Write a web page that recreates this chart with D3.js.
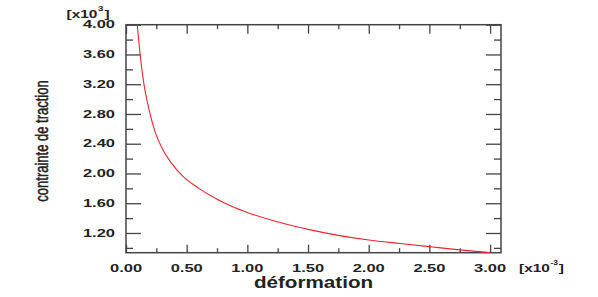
<!DOCTYPE html>
<html>
<head>
<meta charset="utf-8">
<script src="https://cdn.jsdelivr.net/npm/d3@7"></script>
<style>
  body { margin: 0; background: #fff; }
  text { font-family: "Liberation Sans", Arial, sans-serif; fill: #222; }
</style>
</head>
<body>
<div id="chart"></div>
<script>
// values (x in 1e-3, y in 1e3)
const strain = [0.093, 0.115, 0.148, 0.19, 0.24, 0.30, 0.37, 0.47, 0.60, 0.75, 0.87, 1.01, 1.27, 1.51, 1.76, 2.0, 2.26, 2.51, 2.75, 3.0];
const stress = [4.00, 3.62, 3.20, 2.86, 2.56, 2.33, 2.15, 1.96, 1.80, 1.655, 1.56, 1.47, 1.34, 1.245, 1.165, 1.106, 1.058, 1.014, 0.973, 0.935];

const xMajor = [0, 0.5, 1.0, 1.5, 2.0, 2.5, 3.0];
const xMinor = [0.25, 0.75, 1.25, 1.75, 2.25, 2.75];
const yMajor = [1.2, 1.6, 2.0, 2.4, 2.8, 3.2, 3.6, 4.0];
const yMinor = [1.0, 1.4, 1.8, 2.2, 2.6, 3.0, 3.4, 3.8];

const width = 598;
const height = 297;
const plotL = 126, plotR = 501, plotT = 24.7, plotB = 252.7;

const svg = d3.select("#chart")
              .append("svg")
              .attr("width", width)
              .attr("height", height);

const x = d3.scaleLinear().domain([0, 3.09]).range([plotL, plotR]);
const y = d3.scaleLinear().domain([0.935, 4.0]).range([plotB, plotT]);

const fmt = d3.format(".2f");
const axisColor = "#444";

// stretched text helper (the picture is squeezed vertically)
function label(txt, px, py, opts) {
  const t = svg.append("text")
     .attr("transform", `translate(${px},${py}) scale(${opts.sx || 1},1)${opts.rot ? " rotate(" + opts.rot + ")" : ""}`)
     .attr("text-anchor", opts.anchor || "middle")
     .style("font-size", opts.size + "px")
     .style("font-weight", opts.weight || "bold");
  return t.text(txt);
}

// frame
svg.append("rect")
   .attr("x", plotL).attr("y", plotT)
   .attr("width", plotR - plotL).attr("height", plotB - plotT)
   .attr("fill", "none").attr("stroke", axisColor).attr("stroke-width", 1.5);

// ticks, drawn inward with d3 axes
function ticks(axis, vals, size, tr) {
  svg.append("g")
     .attr("transform", tr)
     .call(axis.tickValues(vals).tickSize(-size).tickFormat(""))
     .call(g => g.select(".domain").remove())
     .call(g => g.selectAll("line").attr("stroke", axisColor).attr("stroke-width", 1.3));
}
ticks(d3.axisBottom(x), xMajor, 8, `translate(0,${plotB})`);
ticks(d3.axisBottom(x), xMinor, 4.5, `translate(0,${plotB})`);
ticks(d3.axisTop(x), xMajor, 9, `translate(0,${plotT})`);
ticks(d3.axisTop(x), xMinor, 4.5, `translate(0,${plotT})`);
ticks(d3.axisLeft(y), yMajor, 15, `translate(${plotL},0)`);
ticks(d3.axisLeft(y), yMinor, 7, `translate(${plotL},0)`);
ticks(d3.axisRight(y), yMajor, 15, `translate(${plotR},0)`);
ticks(d3.axisRight(y), yMinor, 7, `translate(${plotR},0)`);

// tick labels
yMajor.forEach(v => label(fmt(v), 115, y(v) + 3.7, { size: 10.3, sx: 1.6, anchor: "end" }));
xMajor.forEach(v => label(fmt(v), x(v), 271.5, { size: 10.3, sx: 1.6 }));

// exponent labels
label("[x10", 66.5, 17.5, { size: 10.3, sx: 1.5, anchor: "start" });
label("3", 98, 11, { size: 7.5, sx: 1.3, anchor: "start" });
label("]", 104.5, 17.5, { size: 10.3, sx: 1.5, anchor: "start" });

label("[x10", 519, 271.5, { size: 10.3, sx: 1.5, anchor: "start" });
label("-3", 550.5, 265, { size: 7, sx: 1.2, anchor: "start" });
label("]", 558.8, 271.5, { size: 10.3, sx: 1.5, anchor: "start" });

// axis titles
label("déformation", 313.5, 288.3, { size: 16, sx: 1.29 });
label("contrainte de traction", 48, 141, { size: 13, sx: 1.4, rot: -90, weight: "normal" })
   .attr("stroke", "#222").attr("stroke-width", 0.35);

// curve
const line = d3.line()
               .x((d, i) => x(strain[i]))
               .y(d => y(d))
               .curve(d3.curveMonotoneX);

svg.append("path")
   .datum(stress)
   .attr("d", line)
   .attr("fill", "none")
   .attr("stroke", "#e8262e")
   .attr("stroke-width", 1.1);
</script>
</body>
</html>
